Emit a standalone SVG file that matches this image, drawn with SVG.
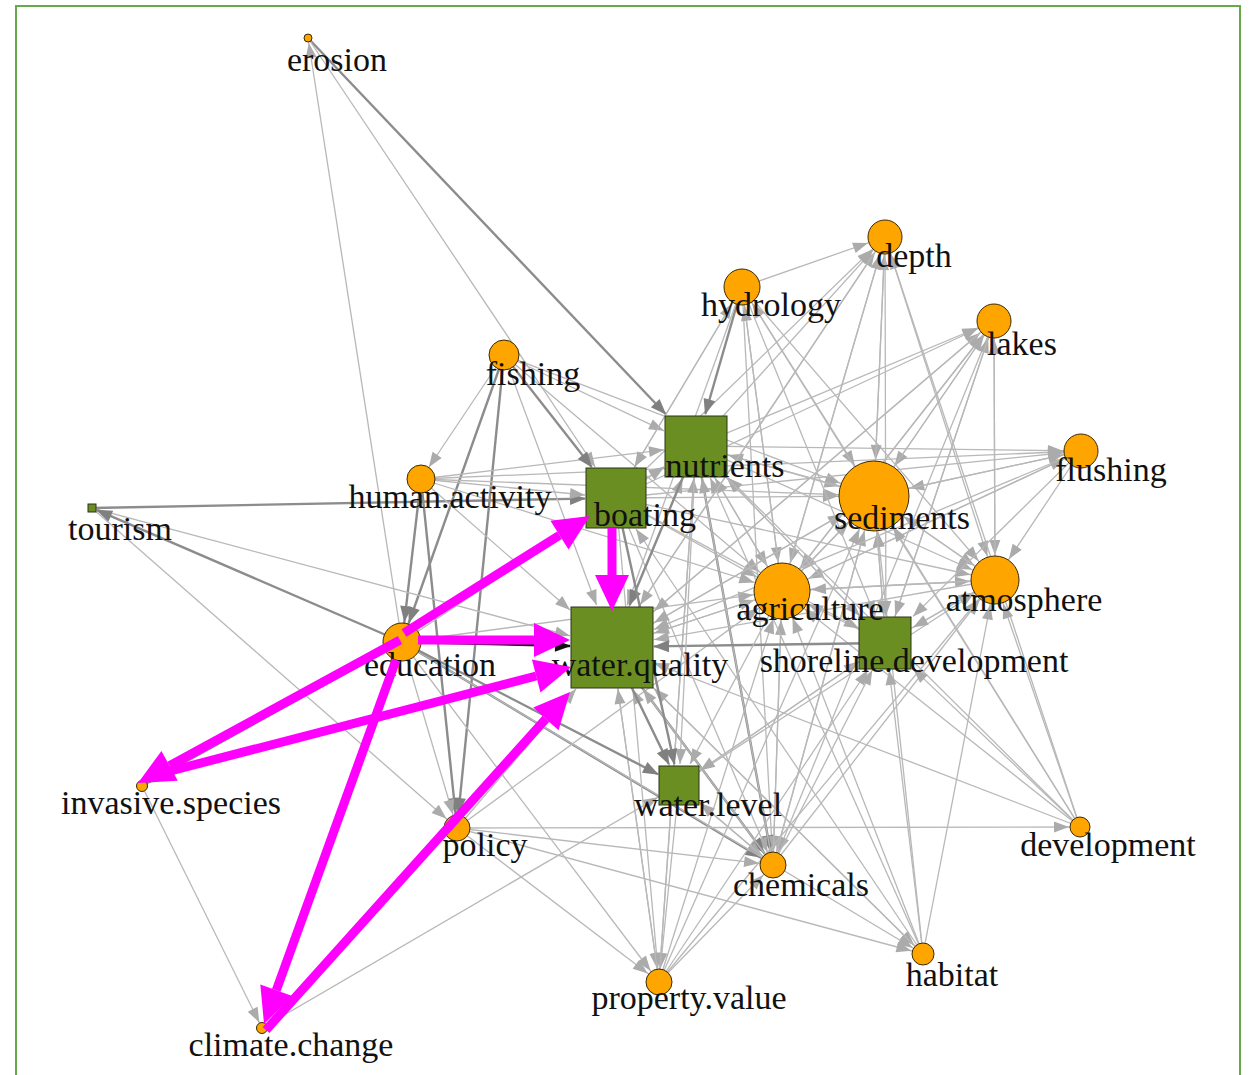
<svg xmlns="http://www.w3.org/2000/svg" width="1253" height="1075" viewBox="0 0 1253 1075">
<style>
.e{stroke:#b8b8b8;stroke-width:1.3;fill:none}
.d{stroke:#8c8c8c;stroke-width:2.4;fill:none}
.k{stroke:#1a1a1a;stroke-width:2.6;fill:none}
.m{stroke:#ff00ff;stroke-width:9;fill:none}
.c{fill:#ffa500;stroke:#3a2a00;stroke-width:1}
.s{fill:#6b8e23;stroke:#2b3518;stroke-width:1}
text{font-family:"Liberation Serif","Times New Roman",serif;font-size:34px;fill:#111;text-anchor:middle}
.al{fill:#ababab}.ad{fill:#808080}
</style>
<defs>
<marker id="l0" markerUnits="userSpaceOnUse" orient="auto" refX="15" refY="0" markerWidth="20" markerHeight="20" style="overflow:visible"><path class="al" d="M0,-5.5L15,0L0,5.5z"/></marker>
<marker id="l4" markerUnits="userSpaceOnUse" orient="auto" refX="20" refY="0" markerWidth="20" markerHeight="20" style="overflow:visible"><path class="al" d="M0,-5.5L15,0L0,5.5z"/></marker>
<marker id="l5" markerUnits="userSpaceOnUse" orient="auto" refX="21" refY="0" markerWidth="20" markerHeight="20" style="overflow:visible"><path class="al" d="M0,-5.5L15,0L0,5.5z"/></marker>
<marker id="l10" markerUnits="userSpaceOnUse" orient="auto" refX="26" refY="0" markerWidth="20" markerHeight="20" style="overflow:visible"><path class="al" d="M0,-5.5L15,0L0,5.5z"/></marker>
<marker id="l11" markerUnits="userSpaceOnUse" orient="auto" refX="27" refY="0" markerWidth="20" markerHeight="20" style="overflow:visible"><path class="al" d="M0,-5.5L15,0L0,5.5z"/></marker>
<marker id="l13" markerUnits="userSpaceOnUse" orient="auto" refX="29" refY="0" markerWidth="20" markerHeight="20" style="overflow:visible"><path class="al" d="M0,-5.5L15,0L0,5.5z"/></marker>
<marker id="l17" markerUnits="userSpaceOnUse" orient="auto" refX="33" refY="0" markerWidth="20" markerHeight="20" style="overflow:visible"><path class="al" d="M0,-5.5L15,0L0,5.5z"/></marker>
<marker id="l18" markerUnits="userSpaceOnUse" orient="auto" refX="34" refY="0" markerWidth="20" markerHeight="20" style="overflow:visible"><path class="al" d="M0,-5.5L15,0L0,5.5z"/></marker>
<marker id="l24" markerUnits="userSpaceOnUse" orient="auto" refX="40" refY="0" markerWidth="20" markerHeight="20" style="overflow:visible"><path class="al" d="M0,-5.5L15,0L0,5.5z"/></marker>
<marker id="l28" markerUnits="userSpaceOnUse" orient="auto" refX="44" refY="0" markerWidth="20" markerHeight="20" style="overflow:visible"><path class="al" d="M0,-5.5L15,0L0,5.5z"/></marker>
<marker id="l35" markerUnits="userSpaceOnUse" orient="auto" refX="51" refY="0" markerWidth="20" markerHeight="20" style="overflow:visible"><path class="al" d="M0,-5.5L15,0L0,5.5z"/></marker>
<marker id="d0" markerUnits="userSpaceOnUse" orient="auto" refX="15" refY="0" markerWidth="20" markerHeight="20" style="overflow:visible"><path class="ad" d="M0,-6L16,0L0,6z"/></marker>
<marker id="d5" markerUnits="userSpaceOnUse" orient="auto" refX="22" refY="0" markerWidth="20" markerHeight="20" style="overflow:visible"><path class="ad" d="M0,-6L16,0L0,6z"/></marker>
<marker id="d13" markerUnits="userSpaceOnUse" orient="auto" refX="30" refY="0" markerWidth="20" markerHeight="20" style="overflow:visible"><path class="ad" d="M0,-6L16,0L0,6z"/></marker>
<marker id="d19" markerUnits="userSpaceOnUse" orient="auto" refX="36" refY="0" markerWidth="20" markerHeight="20" style="overflow:visible"><path class="ad" d="M0,-6L16,0L0,6z"/></marker>
<marker id="k0" markerUnits="userSpaceOnUse" orient="auto" refX="15" refY="0" markerWidth="20" markerHeight="20" style="overflow:visible"><path fill="#111" d="M0,-6L16,0L0,6z"/></marker>
<marker id="mg" markerUnits="userSpaceOnUse" orient="auto" refX="0" refY="0" markerWidth="40" markerHeight="40" style="overflow:visible"><path fill="#ff00ff" d="M0,-17L36,0L0,17z"/></marker>
</defs>
<rect x="0" y="0" width="1253" height="1075" fill="#fff"/>
<rect x="16" y="6" width="1224" height="1090" fill="none" stroke="#66aa4c" stroke-width="2"/>
<g id="connectors">
<line class="e" x1="402" y1="642" x2="308" y2="38" marker-end="url(#l4)"/>
<line class="e" x1="504" y1="355" x2="421" y2="479" marker-end="url(#l13)"/>
<line class="e" x1="504" y1="355" x2="874" y2="496" marker-end="url(#l35)"/>
<line class="e" x1="504" y1="355" x2="782" y2="591" marker-end="url(#l28)"/>
<line class="d" x1="504" y1="355" x2="457" y2="828" marker-end="url(#d13)"/>
<line class="d" x1="504" y1="355" x2="402" y2="642" marker-end="url(#d19)"/>
<line class="d" x1="421" y1="479" x2="457" y2="828" marker-end="url(#d13)"/>
<line class="d" x1="421" y1="479" x2="402" y2="642" marker-end="url(#d19)"/>
<line class="e" x1="421" y1="479" x2="874" y2="496" marker-end="url(#l35)"/>
<line class="e" x1="421" y1="479" x2="782" y2="591" marker-end="url(#l28)"/>
<line class="e" x1="421" y1="479" x2="1081" y2="451" marker-end="url(#l17)"/>
<line class="d" x1="402" y1="642" x2="142" y2="786" marker-end="url(#d5)"/>
<line class="e" x1="402" y1="642" x2="457" y2="828" marker-end="url(#l13)"/>
<line class="e" x1="402" y1="642" x2="659" y2="982" marker-end="url(#l13)"/>
<line class="d" x1="402" y1="642" x2="773" y2="865" marker-end="url(#d13)"/>
<line class="e" x1="402" y1="642" x2="923" y2="954" marker-end="url(#l11)"/>
<line class="e" x1="402" y1="642" x2="782" y2="591" marker-end="url(#l28)"/>
<line class="e" x1="142" y1="786" x2="262" y2="1028" marker-end="url(#l5)"/>
<line class="e" x1="92" y1="508" x2="457" y2="828" marker-end="url(#l13)"/>
<line class="e" x1="457" y1="828" x2="1080" y2="827" marker-end="url(#l10)"/>
<line class="e" x1="457" y1="828" x2="773" y2="865" marker-end="url(#l13)"/>
<line class="e" x1="457" y1="828" x2="923" y2="954" marker-end="url(#l11)"/>
<line class="e" x1="457" y1="828" x2="659" y2="982" marker-end="url(#l13)"/>
<line class="e" x1="457" y1="828" x2="782" y2="591" marker-end="url(#l28)"/>
<line class="e" x1="742" y1="287" x2="885" y2="237" marker-end="url(#l17)"/>
<line class="e" x1="742" y1="287" x2="874" y2="496" marker-end="url(#l35)"/>
<line class="e" x1="742" y1="287" x2="782" y2="591" marker-end="url(#l28)"/>
<line class="e" x1="742" y1="287" x2="995" y2="580" marker-end="url(#l24)"/>
<line class="e" x1="742" y1="287" x2="773" y2="865" marker-end="url(#l13)"/>
<line class="e" x1="1080" y1="827" x2="742" y2="287" marker-end="url(#l18)"/>
<line class="e" x1="696" y1="446" x2="885" y2="237" marker-end="url(#l17)"/>
<line class="e" x1="696" y1="446" x2="994" y2="321" marker-end="url(#l17)"/>
<line class="e" x1="696" y1="446" x2="1081" y2="451" marker-end="url(#l17)"/>
<line class="e" x1="696" y1="446" x2="874" y2="496" marker-end="url(#l35)"/>
<line class="e" x1="696" y1="446" x2="782" y2="591" marker-end="url(#l28)"/>
<line class="d" x1="696" y1="446" x2="773" y2="865" marker-end="url(#d13)"/>
<line class="e" x1="696" y1="446" x2="995" y2="580" marker-end="url(#l24)"/>
<line class="e" x1="696" y1="446" x2="659" y2="982" marker-end="url(#l13)"/>
<line class="e" x1="616" y1="498" x2="885" y2="237" marker-end="url(#l17)"/>
<line class="e" x1="616" y1="498" x2="994" y2="321" marker-end="url(#l17)"/>
<line class="e" x1="616" y1="498" x2="1081" y2="451" marker-end="url(#l17)"/>
<line class="e" x1="616" y1="498" x2="874" y2="496" marker-end="url(#l35)"/>
<line class="e" x1="616" y1="498" x2="782" y2="591" marker-end="url(#l28)"/>
<line class="e" x1="616" y1="498" x2="659" y2="982" marker-end="url(#l13)"/>
<line class="e" x1="616" y1="498" x2="742" y2="287" marker-end="url(#l18)"/>
<line class="e" x1="616" y1="498" x2="773" y2="865" marker-end="url(#l13)"/>
<line class="e" x1="616" y1="498" x2="995" y2="580" marker-end="url(#l24)"/>
<line class="e" x1="923" y1="954" x2="636" y2="529" marker-end="url(#l0)"/>
<line class="e" x1="885" y1="237" x2="874" y2="496" marker-end="url(#l35)"/>
<line class="e" x1="885" y1="237" x2="995" y2="580" marker-end="url(#l24)"/>
<line class="e" x1="1080" y1="827" x2="885" y2="237" marker-end="url(#l17)"/>
<line class="e" x1="885" y1="237" x2="782" y2="591" marker-end="url(#l28)"/>
<line class="e" x1="994" y1="321" x2="995" y2="580" marker-end="url(#l24)"/>
<line class="e" x1="994" y1="321" x2="874" y2="496" marker-end="url(#l35)"/>
<line class="e" x1="994" y1="321" x2="782" y2="591" marker-end="url(#l28)"/>
<line class="e" x1="994" y1="321" x2="773" y2="865" marker-end="url(#l13)"/>
<line class="e" x1="1081" y1="451" x2="874" y2="496" marker-end="url(#l35)"/>
<line class="e" x1="1081" y1="451" x2="995" y2="580" marker-end="url(#l24)"/>
<line class="e" x1="1081" y1="451" x2="782" y2="591" marker-end="url(#l28)"/>
<line class="e" x1="874" y1="496" x2="1081" y2="451" marker-end="url(#l17)"/>
<line class="e" x1="874" y1="496" x2="994" y2="321" marker-end="url(#l17)"/>
<line class="e" x1="874" y1="496" x2="995" y2="580" marker-end="url(#l24)"/>
<line class="e" x1="874" y1="496" x2="782" y2="591" marker-end="url(#l28)"/>
<line class="e" x1="874" y1="496" x2="773" y2="865" marker-end="url(#l13)"/>
<line class="e" x1="874" y1="496" x2="885" y2="237" marker-end="url(#l17)"/>
<line class="e" x1="782" y1="591" x2="885" y2="237" marker-end="url(#l17)"/>
<line class="e" x1="782" y1="591" x2="994" y2="321" marker-end="url(#l17)"/>
<line class="e" x1="782" y1="591" x2="874" y2="496" marker-end="url(#l35)"/>
<line class="e" x1="782" y1="591" x2="995" y2="580" marker-end="url(#l24)"/>
<line class="e" x1="782" y1="591" x2="1081" y2="451" marker-end="url(#l17)"/>
<line class="e" x1="782" y1="591" x2="742" y2="287" marker-end="url(#l18)"/>
<line class="e" x1="782" y1="591" x2="773" y2="865" marker-end="url(#l13)"/>
<line class="e" x1="995" y1="580" x2="874" y2="496" marker-end="url(#l35)"/>
<line class="e" x1="995" y1="580" x2="782" y2="591" marker-end="url(#l28)"/>
<line class="e" x1="995" y1="580" x2="994" y2="321" marker-end="url(#l17)"/>
<line class="e" x1="886" y1="643" x2="995" y2="580" marker-end="url(#l24)"/>
<line class="e" x1="886" y1="643" x2="874" y2="496" marker-end="url(#l35)"/>
<line class="e" x1="886" y1="643" x2="782" y2="591" marker-end="url(#l28)"/>
<line class="e" x1="886" y1="643" x2="994" y2="321" marker-end="url(#l17)"/>
<line class="e" x1="612" y1="647" x2="885" y2="237" marker-end="url(#l17)"/>
<line class="e" x1="612" y1="647" x2="994" y2="321" marker-end="url(#l17)"/>
<line class="d" x1="612" y1="647" x2="773" y2="865" marker-end="url(#d13)"/>
<line class="e" x1="612" y1="647" x2="659" y2="982" marker-end="url(#l13)"/>
<line class="e" x1="612" y1="647" x2="782" y2="591" marker-end="url(#l28)"/>
<line class="e" x1="612" y1="647" x2="874" y2="496" marker-end="url(#l35)"/>
<line class="e" x1="612" y1="647" x2="923" y2="954" marker-end="url(#l11)"/>
<line class="e" x1="679" y1="785" x2="659" y2="982" marker-end="url(#l13)"/>
<line class="e" x1="679" y1="785" x2="995" y2="580" marker-end="url(#l24)"/>
<line class="e" x1="679" y1="785" x2="773" y2="865" marker-end="url(#l13)"/>
<line class="e" x1="773" y1="865" x2="995" y2="580" marker-end="url(#l24)"/>
<line class="e" x1="773" y1="865" x2="874" y2="496" marker-end="url(#l35)"/>
<line class="e" x1="773" y1="865" x2="782" y2="591" marker-end="url(#l28)"/>
<line class="e" x1="1080" y1="827" x2="782" y2="591" marker-end="url(#l28)"/>
<line class="e" x1="1080" y1="827" x2="874" y2="496" marker-end="url(#l35)"/>
<line class="e" x1="1080" y1="827" x2="995" y2="580" marker-end="url(#l24)"/>
<line class="e" x1="923" y1="954" x2="995" y2="580" marker-end="url(#l24)"/>
<line class="e" x1="923" y1="954" x2="782" y2="591" marker-end="url(#l28)"/>
<line class="e" x1="923" y1="954" x2="874" y2="496" marker-end="url(#l35)"/>
<line class="e" x1="659" y1="982" x2="995" y2="580" marker-end="url(#l24)"/>
<line class="e" x1="659" y1="982" x2="782" y2="591" marker-end="url(#l28)"/>
<line class="e" x1="659" y1="982" x2="874" y2="496" marker-end="url(#l35)"/>
<line class="e" x1="659" y1="982" x2="773" y2="865" marker-end="url(#l13)"/>
<line class="d" x1="308" y1="38" x2="665.6" y2="414" marker-end="url(#d0)"/>
<line class="e" x1="504" y1="355" x2="664" y2="430.8" marker-end="url(#l0)"/>
<line class="e" x1="421" y1="479" x2="664" y2="449.8" marker-end="url(#l0)"/>
<line class="e" x1="402" y1="642" x2="664" y2="467.3" marker-end="url(#l0)"/>
<line class="d" x1="742" y1="287" x2="705.3" y2="414" marker-end="url(#d0)"/>
<line class="e" x1="616" y1="498" x2="664" y2="466.8" marker-end="url(#l0)"/>
<line class="e" x1="874" y1="496" x2="728" y2="455" marker-end="url(#l0)"/>
<line class="e" x1="782" y1="591" x2="715" y2="478" marker-end="url(#l0)"/>
<line class="e" x1="886" y1="643" x2="726.9" y2="478" marker-end="url(#l0)"/>
<line class="e" x1="612" y1="647" x2="682.6" y2="478" marker-end="url(#l0)"/>
<line class="e" x1="773" y1="865" x2="701.9" y2="478" marker-end="url(#l0)"/>
<line class="e" x1="1080" y1="827" x2="728" y2="477.7" marker-end="url(#l0)"/>
<line class="e" x1="923" y1="954" x2="710.3" y2="478" marker-end="url(#l0)"/>
<line class="e" x1="659" y1="982" x2="693.8" y2="478" marker-end="url(#l0)"/>
<line class="e" x1="308" y1="38" x2="595.2" y2="467" marker-end="url(#l0)"/>
<line class="d" x1="92" y1="508" x2="585" y2="498.6" marker-end="url(#d0)"/>
<line class="d" x1="504" y1="355" x2="591.7" y2="467" marker-end="url(#d0)"/>
<line class="e" x1="421" y1="479" x2="585" y2="495" marker-end="url(#l0)"/>
<line class="e" x1="742" y1="287" x2="634.5" y2="467" marker-end="url(#l0)"/>
<line class="e" x1="92" y1="508" x2="570" y2="635.8" marker-end="url(#l0)"/>
<line class="e" x1="504" y1="355" x2="596.5" y2="605" marker-end="url(#l0)"/>
<line class="e" x1="421" y1="479" x2="570" y2="610" marker-end="url(#l0)"/>
<line class="k" x1="402" y1="642" x2="570" y2="646" marker-end="url(#k0)"/>
<line class="e" x1="742" y1="287" x2="627.2" y2="605" marker-end="url(#l0)"/>
<line class="d" x1="696" y1="446" x2="629.6" y2="605" marker-end="url(#d0)"/>
<line class="e" x1="885" y1="237" x2="640" y2="605" marker-end="url(#l0)"/>
<line class="e" x1="994" y1="321" x2="654" y2="611.1" marker-end="url(#l0)"/>
<line class="e" x1="1081" y1="451" x2="654" y2="629.4" marker-end="url(#l0)"/>
<line class="e" x1="874" y1="496" x2="654" y2="622.8" marker-end="url(#l0)"/>
<line class="e" x1="782" y1="591" x2="654" y2="633.2" marker-end="url(#l0)"/>
<line class="e" x1="995" y1="580" x2="654" y2="639.7" marker-end="url(#l0)"/>
<line class="d" x1="886" y1="643" x2="654" y2="646.4" marker-end="url(#d0)"/>
<line class="e" x1="679" y1="785" x2="632.4" y2="689" marker-end="url(#l0)"/>
<line class="e" x1="773" y1="865" x2="643" y2="689" marker-end="url(#l0)"/>
<line class="e" x1="1080" y1="827" x2="654" y2="663.1" marker-end="url(#l0)"/>
<line class="e" x1="923" y1="954" x2="654" y2="688.5" marker-end="url(#l0)"/>
<line class="e" x1="659" y1="982" x2="617.9" y2="689" marker-end="url(#l0)"/>
<line class="e" x1="457" y1="828" x2="576" y2="689" marker-end="url(#l0)"/>
<line class="e" x1="742" y1="287" x2="875.1" y2="616" marker-end="url(#l0)"/>
<line class="e" x1="696" y1="446" x2="860" y2="616" marker-end="url(#l0)"/>
<line class="e" x1="616" y1="498" x2="859" y2="628.5" marker-end="url(#l0)"/>
<line class="e" x1="885" y1="237" x2="885.9" y2="616" marker-end="url(#l0)"/>
<line class="e" x1="994" y1="321" x2="895.1" y2="616" marker-end="url(#l0)"/>
<line class="e" x1="1081" y1="451" x2="913" y2="616.4" marker-end="url(#l0)"/>
<line class="e" x1="874" y1="496" x2="883.8" y2="616" marker-end="url(#l0)"/>
<line class="e" x1="995" y1="580" x2="913" y2="627.4" marker-end="url(#l0)"/>
<line class="e" x1="679" y1="785" x2="859" y2="661.5" marker-end="url(#l0)"/>
<line class="e" x1="773" y1="865" x2="872.3" y2="670" marker-end="url(#l0)"/>
<line class="e" x1="1080" y1="827" x2="913" y2="668.6" marker-end="url(#l0)"/>
<line class="e" x1="923" y1="954" x2="889.2" y2="670" marker-end="url(#l0)"/>
<line class="e" x1="659" y1="982" x2="867.9" y2="670" marker-end="url(#l0)"/>
<line class="d" x1="402" y1="642" x2="658" y2="774.2" marker-end="url(#d0)"/>
<line class="e" x1="262" y1="1028" x2="658" y2="797.2" marker-end="url(#l0)"/>
<line class="e" x1="696" y1="446" x2="680" y2="764" marker-end="url(#l0)"/>
<line class="d" x1="616" y1="498" x2="674.4" y2="764" marker-end="url(#d0)"/>
<line class="e" x1="886" y1="643" x2="700" y2="770.6" marker-end="url(#l0)"/>
<line class="e" x1="782" y1="591" x2="690.1" y2="764" marker-end="url(#l0)"/>
<line class="d" x1="612" y1="647" x2="668.8" y2="764" marker-end="url(#d0)"/>
<line class="e" x1="773" y1="865" x2="700" y2="802.9" marker-end="url(#l0)"/>
<line class="d" x1="402" y1="642" x2="97" y2="510.2" marker-end="url(#d0)"/>
</g>
<g id="n-shoreline.development"><rect class="s" x="859" y="617" width="52" height="52"/><text x="914" y="672">shoreline.development</text></g>
<g id="n-erosion"><circle class="c" cx="308" cy="38" r="4"/><text x="337" y="71">erosion</text></g>
<g id="n-depth"><circle class="c" cx="885" cy="237" r="17"/><text x="914" y="267">depth</text></g>
<g id="n-hydrology"><circle class="c" cx="742" cy="287" r="18"/><text x="771" y="316">hydrology</text></g>
<g id="n-lakes"><circle class="c" cx="994" cy="321" r="17"/><text x="1022" y="355">lakes</text></g>
<g id="n-fishing"><circle class="c" cx="504" cy="355" r="15"/><text x="533" y="385">fishing</text></g>
<g id="n-nutrients"><rect class="s" x="665" y="416" width="62" height="61"/><text x="725" y="477">nutrients</text></g>
<g id="n-flushing"><circle class="c" cx="1081" cy="451" r="17"/><text x="1111" y="481">flushing</text></g>
<g id="n-human.activity"><circle class="c" cx="421" cy="479" r="14"/><text x="450" y="508">human.activity</text></g>
<g id="n-sediments"><circle class="c" cx="874" cy="496" r="35"/><text x="902" y="529">sediments</text></g>
<g id="n-boating"><rect class="s" x="586" y="468" width="60" height="60"/><text x="645" y="526">boating</text></g>
<g id="n-tourism"><rect class="s" x="88" y="504" width="8" height="8"/><text x="120" y="540">tourism</text></g>
<g id="n-agriculture"><circle class="c" cx="782" cy="591" r="28"/><text x="810" y="620">agriculture</text></g>
<g id="n-atmosphere"><circle class="c" cx="995" cy="580" r="24"/><text x="1024" y="611">atmosphere</text></g>
<g id="n-education"><circle class="c" cx="402" cy="642" r="19"/><text x="430" y="676">education</text></g>
<g id="n-water.quality"><rect class="s" x="571" y="607" width="82" height="81"/><text x="640" y="676">water.quality</text></g>
<g id="n-invasive.species"><circle class="c" cx="142" cy="786" r="5.5"/><text x="171" y="814">invasive.species</text></g>
<g id="n-water.level"><rect class="s" x="659" y="766" width="40" height="39"/><text x="708" y="816">water.level</text></g>
<g id="n-policy"><circle class="c" cx="457" cy="828" r="13"/><text x="485" y="856">policy</text></g>
<g id="n-development"><circle class="c" cx="1080" cy="827" r="10"/><text x="1108" y="856">development</text></g>
<g id="n-chemicals"><circle class="c" cx="773" cy="865" r="13"/><text x="801" y="896">chemicals</text></g>
<g id="n-habitat"><circle class="c" cx="923" cy="954" r="11"/><text x="952" y="986">habitat</text></g>
<g id="n-property.value"><circle class="c" cx="659" cy="982" r="13"/><text x="689" y="1009">property.value</text></g>
<g id="n-climate.change"><circle class="c" cx="262" cy="1028" r="5.5"/><text x="291" y="1056">climate.change</text></g>
<g id="highlight">
<line class="m" x1="404" y1="633" x2="559.5" y2="535.2" marker-end="url(#mg)"/>
<line class="m" x1="612" y1="528" x2="612" y2="575" marker-end="url(#mg)"/>
<line class="m" x1="418" y1="640" x2="534" y2="640" marker-end="url(#mg)"/>
<line class="m" x1="400" y1="640" x2="169.6" y2="765.8" marker-end="url(#mg)"/>
<line class="m" x1="155" y1="775" x2="536.2" y2="676" marker-end="url(#mg)"/>
<line class="m" x1="396" y1="660" x2="276.3" y2="990.2" marker-end="url(#mg)"/>
<line class="m" x1="266" y1="1030" x2="545.9" y2="718.8" marker-end="url(#mg)"/>
</g>
</svg>
